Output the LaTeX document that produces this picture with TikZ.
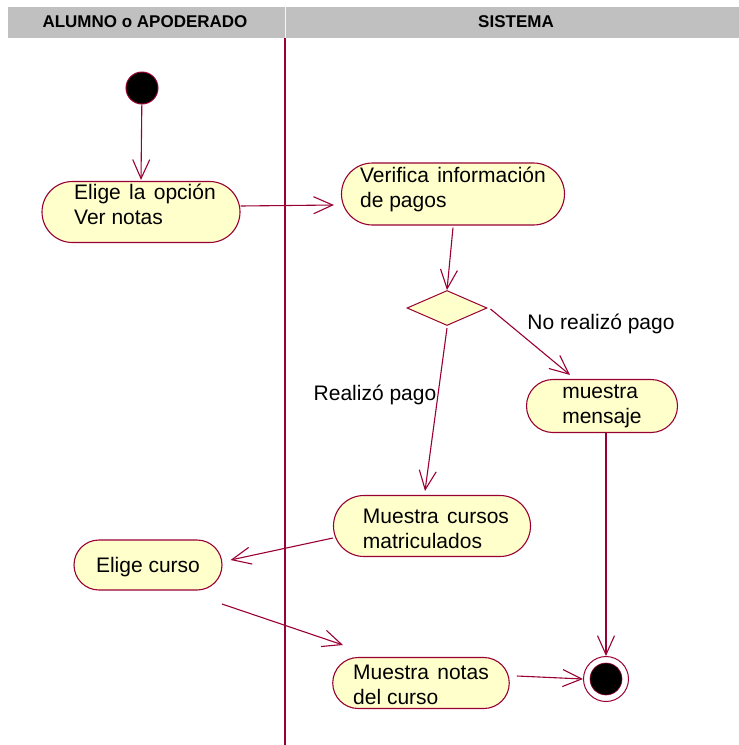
\documentclass[tikz,border=0pt]{standalone}
\definecolor{lanered}{RGB}{153, 0, 51}
\definecolor{notecream}{RGB}{255, 255, 204}
\definecolor{headgray}{RGB}{192, 192, 192}
\usepackage{fontspec}
\setmainfont{Liberation Sans}
\usepackage{tikz}
\usetikzlibrary{arrows.meta, positioning, shapes.geometric, shapes.misc, calc}
\newcommand{\esp}{\ \hspace{2.5pt}}
\newcommand{\bloque}[2]{\raisebox{#1}[\height][\depth]{\begin{tabular}{@{}l@{}}#2\end{tabular}}}

\begin{document}
\begin{tikzpicture}[x=1pt, y=-1pt,
    flow/.style={lanered, line width=1.1pt, -{Straight Barb[length=19pt, width=17pt, line width=1.1pt]}},
    activity/.style={rounded rectangle, draw=lanered, line width=1.1pt, fill=notecream,
      inner sep=0pt, font=\fontsize{21}{25}\selectfont},
    lbl/.style={font=\fontsize{21}{25}\selectfont}]
      \useasboundingbox (0,0) rectangle (739,745);
      % Lane headers
      \fill[headgray] (8,7) rectangle (739,38);
      \draw[white!85!headgray, line width=0.6pt] (285,7) -- (285,38);
      \node[font=\fontsize{17}{20}\selectfont\bfseries] (hdalumno) at (145,22) {ALUMNO o APODERADO};
      \node[font=\fontsize{17}{20}\selectfont\bfseries] (hdsistema) at (516,22) {SISTEMA};
      % Swimlane divider
      \draw[lanered, line width=1.2pt] (285,38) -- (285,745);

      % Start and end
      \node[circle, draw=lanered, fill=black, line width=1pt, minimum size=32pt, inner sep=0pt] (inicio) at (142,88) {};
      \node[circle, draw=lanered, fill=white, line width=1pt, minimum size=45pt, inner sep=0pt] (fin) at (606,679) {};
      \node[circle, draw=lanered, fill=black, line width=0.6pt, minimum size=32pt, inner sep=0pt] (finin) at (606,679) {};

      % Activities
      \node[activity, minimum width=198pt, minimum height=61pt] (eligeop) at (141,212)
        {\bloque{5pt}{\hspace{8pt}Elige\esp la\esp opción\\\hspace{8pt}Ver notas}};
      \node[activity, minimum width=223pt, minimum height=62pt] (verifica) at (453,194)
        {\bloque{4pt}{Verifica\esp información\\de pagos}};
      \node[diamond, draw=lanered, line width=1pt, fill=notecream, aspect=2.28,
        minimum width=80pt, minimum height=35pt, inner sep=0pt] (decision) at (447,308) {};
      \node[activity, minimum width=151pt, minimum height=53pt] (mensaje) at (602,406)
        {\bloque{0pt}{muestra\\mensaje}};
      \node[activity, minimum width=197pt, minimum height=61pt] (cursos) at (432,526)
        {\bloque{-5pt}{\hspace{8pt}Muestra\esp cursos\\\hspace{8pt}matriculados}};
      \node[activity, minimum width=148pt, minimum height=50pt] (eligecurso) at (148,565)
        {\bloque{-2pt}{Elige curso}};
      \node[activity, minimum width=174pt, minimum height=51pt] (notas) at (421,683)
        {\bloque{-4pt}{Muestra\esp notas\\del curso}};

      % Guards
      \node[lbl] (nopago) at (601,324) {No realizó pago};
      \node[lbl] (sipago) at (375,395) {Realizó pago};

      % Transitions
      \draw[flow] (inicio) -- ([yshift=1pt]eligeop.north);
      \draw[flow] ([yshift=6pt]eligeop.east) -- ([shift={(-7pt,-11pt)}]verifica.west);
      \draw[flow] ([yshift=-2pt]verifica.south) -- (decision.north);
      \draw[flow] ([shift={(3pt,-1pt)}]decision.east) -- ([shift={(-32pt,4pt)}]mensaje.north);
      \draw[flow] ([yshift=-2pt]decision.south) -- ([shift={(-7pt,4pt)}]cursos.north);
      \draw[flow] (mensaje.south -| fin.north) -- (fin.north);
      \draw[flow] ([yshift=-12pt]cursos.west) -- ([shift={(8pt,5pt)}]eligecurso.east);
      \coordinate (desde) at (222,604);
      \coordinate (hacia) at (343,645);
      \draw[flow] (desde) -- (hacia);
      \draw[flow] ([shift={(7pt,7pt)}]notas.east) -- (fin.west);
    \end{tikzpicture}
\end{document}
